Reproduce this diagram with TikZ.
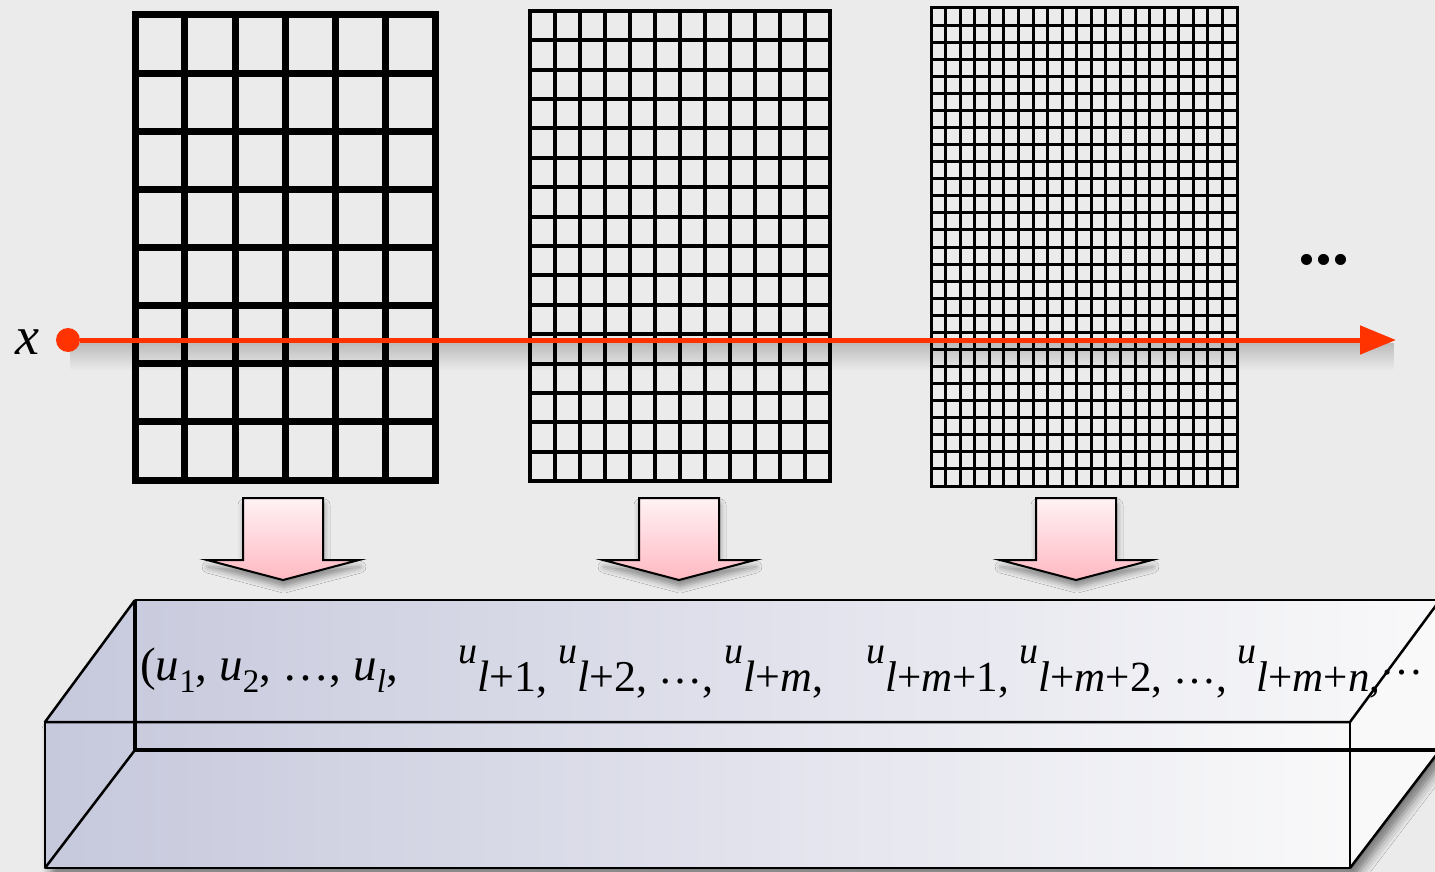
\documentclass[tikz,border=0pt]{standalone}
\usepackage{fontspec}
\setmainfont{Liberation Serif}
\usepackage{tikz}
\usetikzlibrary{arrows.meta,calc,shadows.blur,fadings}
\definecolor{bggray}{HTML}{EBEBEB}
\definecolor{rayred}{HTML}{FF3300}
\definecolor{boxleft}{HTML}{C6C8DC}
\definecolor{boxright}{HTML}{F9F9FA}
\definecolor{pinktop}{HTML}{FFF2F4}
\definecolor{pinkbot}{HTML}{FFB9C2}
\newcommand{\ulow}[1]{\textit{u}\raisebox{-12pt}{\fontsize{33}{33}\selectfont #1}}
\newcommand{\uhigh}[1]{\raisebox{28pt}{\fontsize{38}{38}\selectfont\textit{u}}#1}
\tikzset{
  gridframe/.style={draw=black, inner sep=0pt, outer sep=0pt},
  downarrow/.style={draw=black, line width=2pt, top color=pinktop, bottom color=pinkbot,
    blur shadow={shadow xshift=1pt, shadow yshift=-7pt, shadow blur radius=6pt, shadow opacity=40}},
  ray/.style={-{Triangle[length=36pt, width=28pt]}, line width=5pt, draw=rayred},
  boxedge/.style={draw=black, line width=2.5pt, line join=round},
  backedge/.style={draw=black, line width=4pt},
  seqtext/.style={anchor=base west, inner sep=0pt},
}
\begin{document}
\begin{tikzpicture}[x=1pt, y=-1pt]
  \useasboundingbox (0,0) rectangle (1435,872);
  \fill[bggray] (0,0) rectangle (1435,872);

  % three grids, coarse to fine
  \node[gridframe, line width=7pt, minimum width=300pt, minimum height=465pt] (g1) at (285,247.5) {};
  \foreach \i in {1,...,5}
    \draw[line width=7pt] ($(g1.north west)!{\i/6}!(g1.north east)$) -- ($(g1.south west)!{\i/6}!(g1.south east)$);
  \foreach \j in {1,...,7}
    \draw[line width=7pt] ($(g1.north west)!{\j/8}!(g1.south west)$) -- ($(g1.north east)!{\j/8}!(g1.south east)$);

  \node[gridframe, line width=4pt, minimum width=300pt, minimum height=470pt] (g2) at (680,246) {};
  \foreach \i in {1,...,11}
    \draw[line width=4pt] ($(g2.north west)!{\i/12}!(g2.north east)$) -- ($(g2.south west)!{\i/12}!(g2.south east)$);
  \foreach \j in {1,...,15}
    \draw[line width=4pt] ($(g2.north west)!{\j/16}!(g2.south west)$) -- ($(g2.north east)!{\j/16}!(g2.south east)$);

  \node[gridframe, line width=3pt, minimum width=306pt, minimum height=478pt] (g3) at (1084,247) {};
  \foreach \i in {1,...,20}
    \draw[line width=3pt] ($(g3.north west)!{\i/21}!(g3.north east)$) -- ($(g3.south west)!{\i/21}!(g3.south east)$);
  \foreach \j in {1,...,27}
    \draw[line width=3pt] ($(g3.north west)!{\j/28}!(g3.south west)$) -- ($(g3.north east)!{\j/28}!(g3.south east)$);

  \node[font=\bfseries\fontsize{68}{70}\selectfont, inner sep=0pt] (more) at (1324,260) {...};

  % ray through the grids
  \fill[black, path fading=south, fill opacity=0.2] (70,343) rectangle (1395,370);
  \node[circle, fill=rayred, minimum size=24pt, inner sep=0pt] (xin) at (68,340) {};
  \node[font=\fontsize{54}{56}\selectfont\itshape, anchor=east, inner sep=0pt] (xlab) at (40,342) {x};
  \coordinate (xend) at (1396,340);
  \draw[ray] (xin) -- (xend);

  % box holding the coefficients
  \coordinate (btl) at (135,600);
  \coordinate (btr) at (1440,600);
  \coordinate (bbl) at (135,750);
  \coordinate (bbr) at (1440,750);
  \coordinate (ftl) at (45,722);
  \coordinate (ftr) at (1350,722);
  \coordinate (fbl) at (45,868);
  \coordinate (fbr) at (1350,868);
  \path[blur shadow={shadow xshift=6pt, shadow yshift=-8pt, shadow blur radius=9pt, shadow opacity=50}]
    (btl) -- (btr) -- (bbr) -- (fbr) -- (fbl) -- (ftl) -- cycle;
  \fill[left color=boxleft, right color=boxright] (btl) -- (btr) -- (ftr) -- (ftl) -- cycle;
  \fill[left color=boxleft, right color=boxright] (ftl) -- (ftr) -- (fbr) -- (fbl) -- cycle;
  \fill[boxright] (ftr) -- (btr) -- (bbr) -- (fbr) -- cycle;
  \draw[backedge] (btl) -- (bbl) -- (bbr);
  \draw[boxedge] (btl) -- (btr);
  \draw[boxedge] (btl) -- (ftl) -- (ftr) -- (btr);
  \draw[boxedge] (ftl) -- (fbl) -- (fbr) -- (ftr);
  \draw[boxedge] (bbl) -- (fbl);
  \draw[boxedge] (fbr) -- (bbr);

  % block arrows from each grid into the box
  \foreach \cx in {283,679,1076}
    \draw[downarrow] (\cx-40,498) -- (\cx+40,498) -- (\cx+40,560) -- (\cx+76,560)
      -- (\cx,580) -- (\cx-76,560) -- (\cx-40,560) -- cycle;

  \node[seqtext, font=\fontsize{47}{50}\selectfont] (t1) at (140,680) {(\ulow{1}, \ulow{2}, \dots, \ulow{\textit{l}},};
  \node[seqtext, font=\fontsize{44}{47}\selectfont] (t2) at (458,691) {\uhigh{\textit{l}+1}, \uhigh{\textit{l}+2}, \raisebox{8pt}{\dots}, \uhigh{\textit{l}+\textit{m}},};
  \node[seqtext, font=\fontsize{43}{46}\selectfont] (t3) at (866,691) {\uhigh{\textit{l}+\textit{m}+1}, \uhigh{\textit{l}+\textit{m}+2}, \raisebox{8pt}{\dots}, \uhigh{\textit{l}+\textit{m}+\textit{n}},\raisebox{17pt}{\dots}};
\end{tikzpicture}
\end{document}
